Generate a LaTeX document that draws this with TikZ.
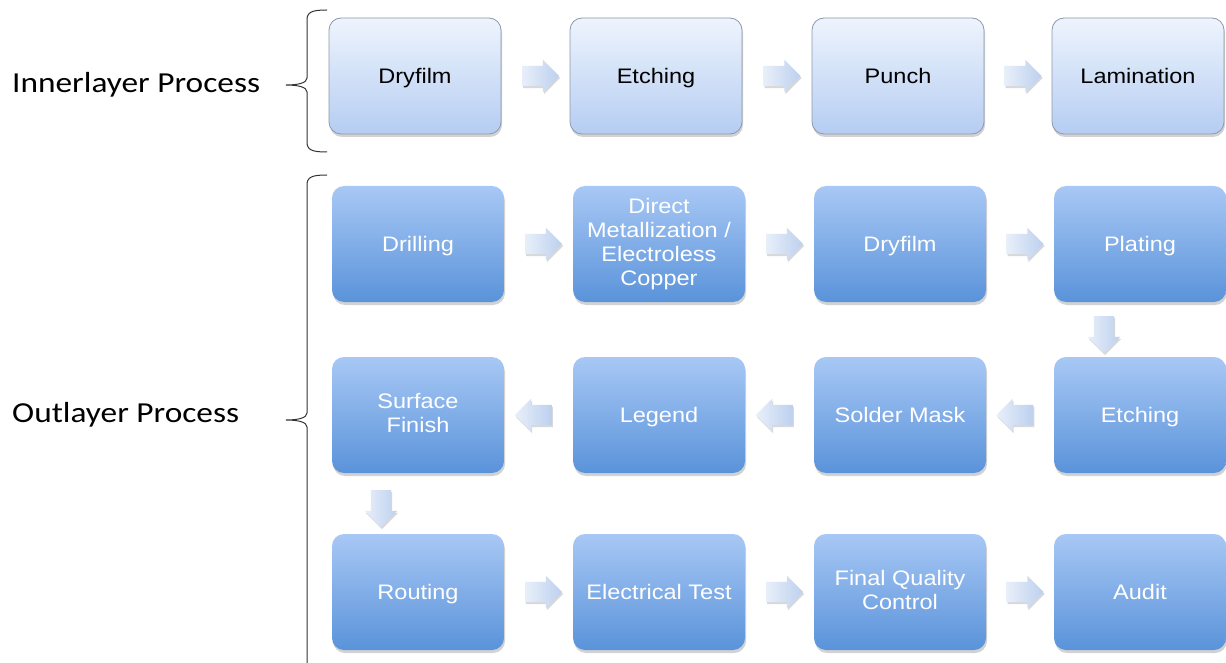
\documentclass[tikz,border=0pt]{standalone}
\usepackage{fontspec}
\setmainfont{Liberation Sans}[FakeStretch=1.12]
\newfontfamily\labelfont{Carlito}[FakeStretch=1.15]
\usetikzlibrary{shapes.arrows,shadows,calc}

\definecolor{innertop}{HTML}{EEF4FD}
\definecolor{innerbot}{HTML}{B5CDF2}
\definecolor{innerline}{HTML}{8C98AC}
\definecolor{outertop}{HTML}{A8C8F5}
\definecolor{outerbot}{HTML}{5A93DA}
\definecolor{arrowlight}{HTML}{E8EFFA}
\definecolor{arrowdark}{HTML}{BCD0EE}

\tikzset{
  stepbox/.style={rounded corners=12pt, minimum width=172pt, minimum height=116pt,
    align=center, inner sep=2pt, font=\fontsize{21}{24}\selectfont,
    execute at begin node=\rule{0pt}{20pt}, execute at end node=\rule[-5pt]{0pt}{5pt},
    drop shadow={shadow xshift=1pt, shadow yshift=-3pt, opacity=0.35}},
  innerbox/.style={stepbox, top color=innertop, bottom color=innerbot,
    draw=innerline, line width=0.8pt, text=black},
  outerbox/.style={stepbox, top color=outertop, bottom color=outerbot, text=white},
  flowarrow/.style={single arrow, minimum height=37pt, minimum width=32pt,
    single arrow head extend=6pt, inner sep=10pt,
    left color=arrowlight, right color=arrowdark,
    drop shadow={shadow xshift=1pt, shadow yshift=-2pt, opacity=0.3}},
  brace/.style={draw=black!80, line width=1pt},
  grouplabel/.style={anchor=west, inner sep=0pt, font=\labelfont\fontsize{29}{30}\selectfont}
}

\begin{document}
\begin{tikzpicture}[x=1pt, y=-1pt]
  \useasboundingbox[fill=white] (0,0) rectangle (1226,663);

  % inner layer steps
  \node[innerbox] (i1) at (415,76)  {Dryfilm};
  \node[innerbox] (i2) at (656,76)  {Etching};
  \node[innerbox] (i3) at (898,76)  {Punch};
  \node[innerbox] (i4) at (1138,76) {Lamination};

  % outer layer steps
  \node[outerbox] (o1) at (418,244)  {Drilling};
  \node[outerbox] (o2) at (659,244)  {Direct\\Metallization /\\Electroless\\Copper};
  \node[outerbox] (o3) at (900,244)  {Dryfilm};
  \node[outerbox] (o4) at (1140,244) {Plating};

  \node[outerbox] (o8) at (418,415)  {Surface\\Finish};
  \node[outerbox] (o7) at (659,415)  {Legend};
  \node[outerbox] (o6) at (900,415)  {Solder Mask};
  \node[outerbox] (o5) at (1140,415) {Etching};

  \node[outerbox] (o9)  at (418,592)  {Routing};
  \node[outerbox] (o10) at (659,592)  {Electrical Test};
  \node[outerbox] (o11) at (900,592)  {Final Quality\\Control};
  \node[outerbox] (o12) at (1140,592) {Audit};

  % block arrows between the steps
  \foreach \a/\b in {i1/i2, i2/i3, i3/i4, o1/o2, o2/o3, o3/o4, o9/o10, o10/o11, o11/o12}
    \node[flowarrow] at ($(\a.east)!0.5!(\b.west)$) {};
  \foreach \a/\b in {o5/o6, o6/o7, o7/o8}
    \node[flowarrow, rotate=180] at ($(\a.west)!0.5!(\b.east)$) {};
  \node[flowarrow, rotate=-90] (d1) at ($($(o4.south)!0.5!(o5.north)$)+(-36,0)$) {};
  \node[flowarrow, rotate=-90] (d2) at ($($(o8.south)!0.5!(o9.north)$)+(-37,0)$) {};

  % group labels and braces
  \node[grouplabel] (lin) at (12,85) {Innerlayer Process};
  \node[grouplabel] (lout) at (12,415) {Outlayer Process};

  \coordinate (tin) at (286,85);
  \coordinate (tout) at (286,420);

  \draw[brace] (327,10) .. controls (312,10) and (307,12) .. (307,20) -- (307,78)
    .. controls (307,83) and (298,85) .. (tin)
    .. controls (298,85) and (307,87) .. (307,92) -- (307,142)
    .. controls (307,150) and (312,152) .. (327,152);
  \draw[brace] (327,175) .. controls (312,175) and (307,177) .. (307,185) -- (307,413)
    .. controls (307,418) and (298,420) .. (tout)
    .. controls (298,420) and (307,422) .. (307,427) -- (307,663);
\end{tikzpicture}
\end{document}
